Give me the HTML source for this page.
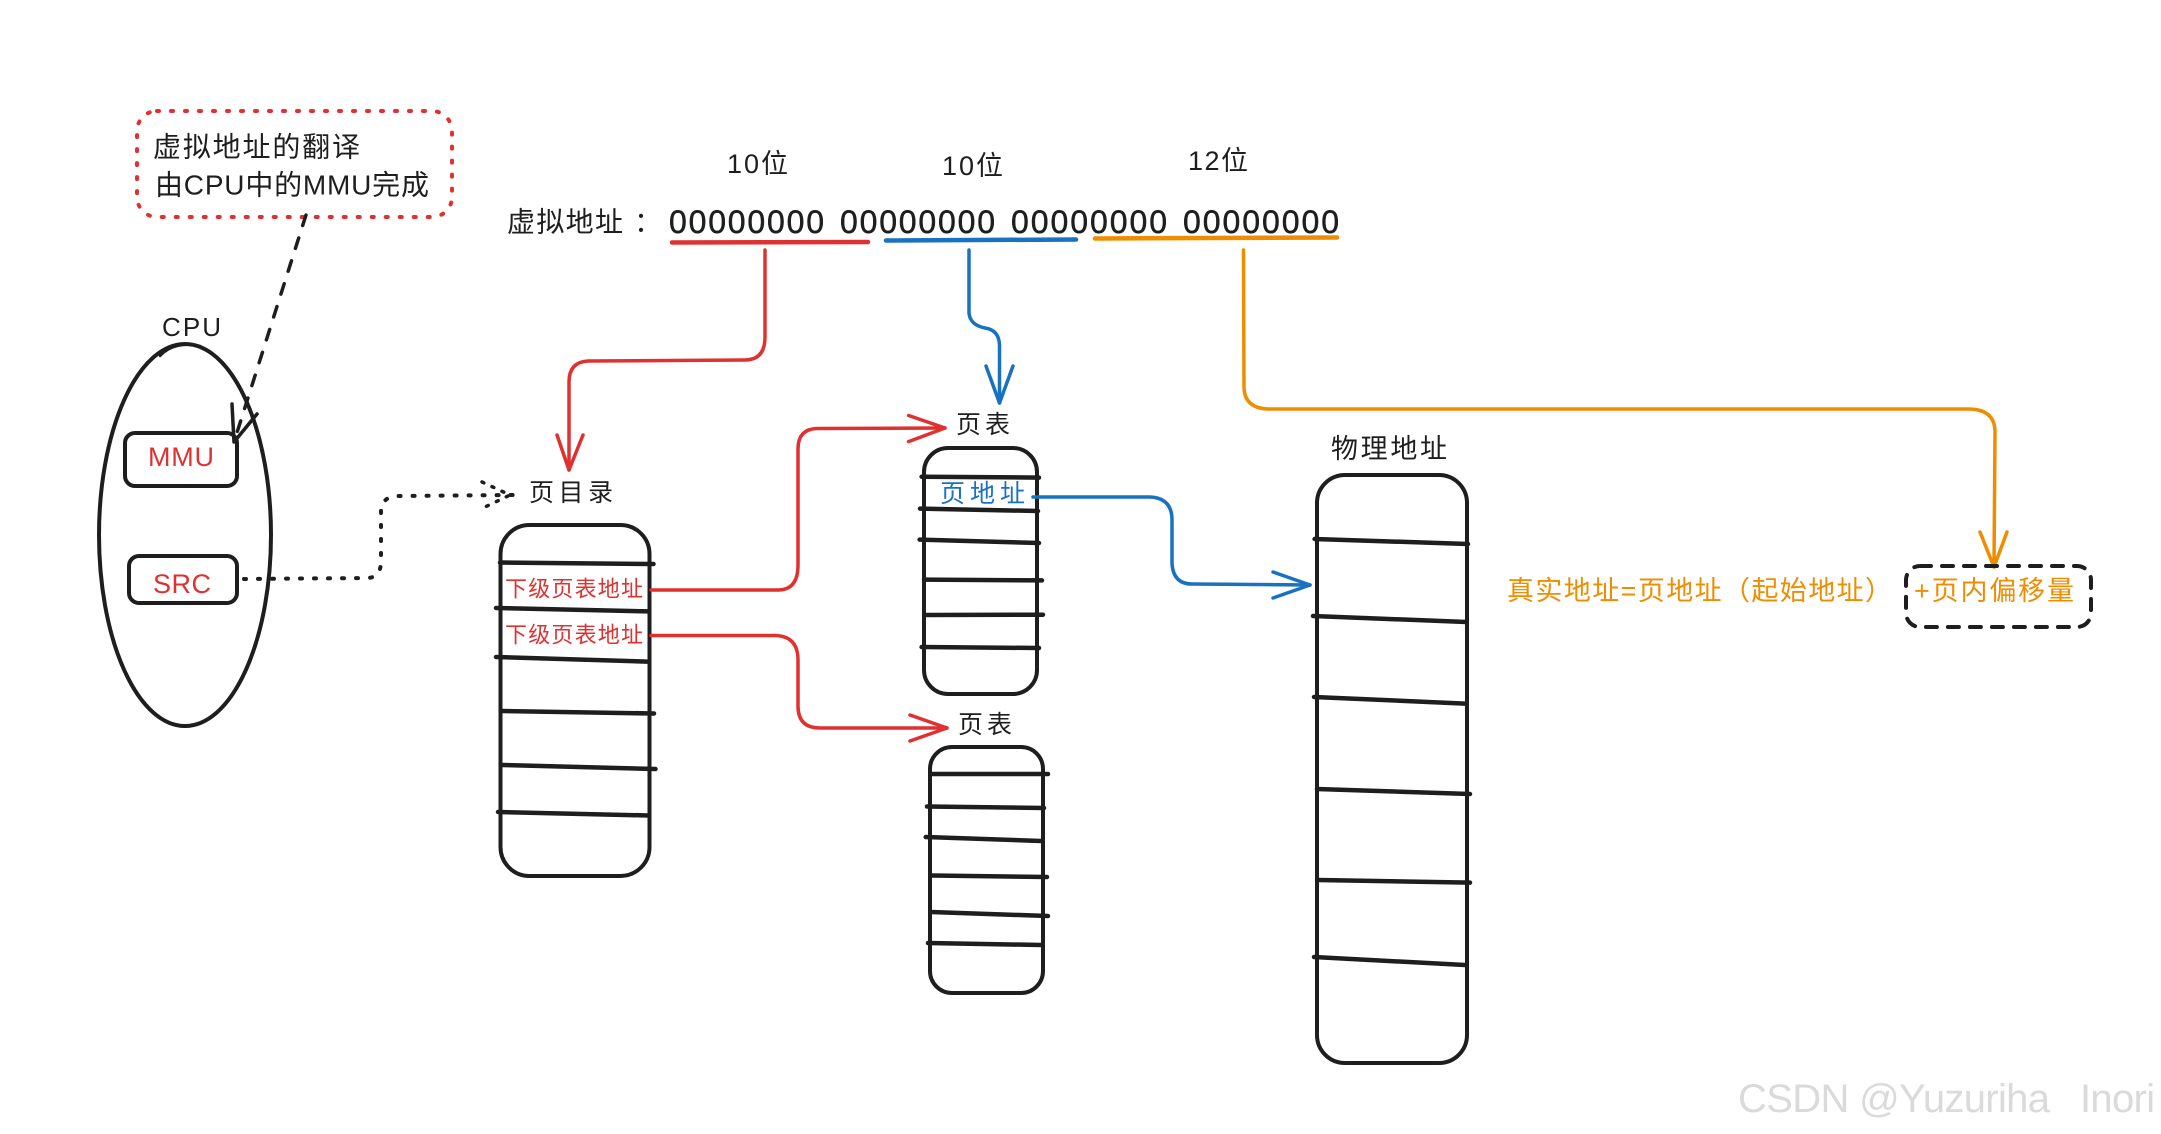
<!DOCTYPE html>
<html lang="zh">
<head>
<meta charset="utf-8">
<title>虚拟地址翻译</title>
<style>
html,body{margin:0;padding:0;background:#fff;width:2161px;height:1134px;overflow:hidden}
svg{display:block}
text{font-family:"Liberation Sans","WenQuanYi Zen Hei","Noto Sans CJK SC",sans-serif;dominant-baseline:central;fill:#1e1e1e}
.r{fill:#e03131}.b{fill:#1971c2}.o{fill:#f08c00}
.k{fill:none;stroke:#1e1e1e;stroke-linecap:round;stroke-linejoin:round}
.rs{fill:none;stroke:#e03131;stroke-width:3.5;stroke-linecap:round;stroke-linejoin:round}
.bs{fill:none;stroke:#1971c2;stroke-width:3.5;stroke-linecap:round;stroke-linejoin:round}
.os{fill:none;stroke:#f08c00;stroke-width:3.5;stroke-linecap:round;stroke-linejoin:round}
</style>
</head>
<body>
<svg width="2161" height="1134" viewBox="0 0 2161 1134" xmlns="http://www.w3.org/2000/svg">
<rect width="2161" height="1134" fill="#fff"/>

<!-- note -->
<rect x="137" y="111" width="315" height="106" rx="20" fill="none" stroke="#e03131" stroke-width="4" stroke-linecap="round" stroke-dasharray="2 12"/>
<text x="153" y="147" font-size="28" textLength="207" lengthAdjust="spacing">虚拟地址的翻译</text>
<text x="155" y="185" font-size="28" textLength="274" lengthAdjust="spacing">由CPU中的MMU完成</text>

<!-- CPU -->
<text x="162" y="327" font-size="26" textLength="59" lengthAdjust="spacing">CPU</text>
<ellipse cx="185" cy="535" rx="86" ry="191" class="k" stroke-width="4"/>
<path d="M160 356 C170 345 185 343 200 346" class="k" stroke-width="2.5"/>
<rect x="125" y="433" width="112" height="53" rx="10" class="k" stroke-width="4"/>
<text x="181" y="457" font-size="27" text-anchor="middle" class="r" textLength="66" lengthAdjust="spacing">MMU</text>
<rect x="129" y="556" width="108" height="47" rx="10" class="k" stroke-width="4"/>
<text x="182" y="584" font-size="27" text-anchor="middle" class="r" textLength="58" lengthAdjust="spacing">SRC</text>

<!-- dashed note → MMU -->
<path d="M306 215 L234 442" class="k" stroke-width="3.5" stroke-dasharray="11 13"/>
<path d="M232 404 L234 442 L257 414" class="k" stroke-width="3.5"/>

<!-- dotted SRC → 页目录 -->
<path d="M244 579 L368 578 Q381 577 381 561 L381 512 Q381 497 397 496 L516 495" class="k" stroke-width="4" stroke-linecap="round" stroke-dasharray="2 12"/>
<path d="M482 482 L510 495 L483 508" class="k" stroke-width="3.5" stroke-dasharray="2 9"/>

<!-- header -->
<text x="727" y="164" font-size="27" textLength="61" lengthAdjust="spacing">10位</text>
<text x="942" y="166" font-size="27" textLength="61" lengthAdjust="spacing">10位</text>
<text x="1188" y="161" font-size="27" textLength="60" lengthAdjust="spacing">12位</text>
<text x="507" y="222" font-size="28" textLength="116" lengthAdjust="spacing">虚拟地址</text>
<text x="634" y="222" font-size="28">：</text>
<g font-size="32" stroke="#1e1e1e" stroke-width="0.5">
<text x="669" y="222" textLength="155" lengthAdjust="spacing">00000000</text>
<text x="840" y="222" textLength="155" lengthAdjust="spacing">00000000</text>
<text x="1011" y="222" textLength="156" lengthAdjust="spacing">00000000</text>
<text x="1183" y="222" textLength="156" lengthAdjust="spacing">00000000</text>
</g>
<path d="M672 242.5 L868 242" fill="none" stroke="#e03131" stroke-width="4.5" stroke-linecap="round"/>
<path d="M886 240.5 L1076 239.5" fill="none" stroke="#1971c2" stroke-width="4.5" stroke-linecap="round"/>
<path d="M1095 238.5 L1337 237.5" fill="none" stroke="#f08c00" stroke-width="4.5" stroke-linecap="round"/>

<!-- red to 页目录 -->
<path d="M765 250 L765 337 Q765 360 745 360 L588 361 Q569 362 569 382 L569 470" class="rs"/>
<path d="M557 435 L569 470 L583 435" class="rs"/>

<!-- blue to 页表 -->
<path d="M969 250 L969 313 Q970 325 985 328 Q999 330 999.5 345 L999.5 403" class="bs"/>
<path d="M986 366 L999.5 403 L1013 366" class="bs"/>

<!-- orange -->
<path d="M1243.5 250 L1244 388 Q1245 409 1270 409 L1968 409 Q1995 409 1995 432 L1994 567" class="os"/>
<path d="M1980 532 L1994 567 L2007 532" class="os"/>

<!-- 页目录 table -->
<text x="529" y="493" font-size="25" textLength="84" lengthAdjust="spacing">页目录</text>
<rect x="500.5" y="525" width="149" height="351" rx="29" class="k" stroke-width="4"/>
<g class="k" stroke-width="4.5">
<path d="M500 562.5 L653.5 564"/>
<path d="M496 608 L648.6 611.4"/>
<path d="M496 657 L647 661.6"/>
<path d="M502 711 L654 713.5"/>
<path d="M502 765 L655.5 769"/>
<path d="M498 812 L648.6 815.5"/>
</g>
<text x="505" y="589" font-size="22" class="r" textLength="138" lengthAdjust="spacing">下级页表地址</text>
<text x="505" y="635" font-size="22" class="r" textLength="138" lengthAdjust="spacing">下级页表地址</text>

<!-- red to tables -->
<path d="M651 590 L778 590 Q798 590 798 565 L798 449 Q798 429 817 428.5 L945 428" class="rs"/>
<path d="M908.6 415.5 L945 428 L908.6 441.6" class="rs"/>
<path d="M651 635.5 L775 635.5 Q798 636 798 660 L798 706 Q798 728 820 728 L947 728" class="rs" stroke-width="4"/>
<path d="M910 715 L947 728 L910 741" class="rs"/>

<!-- 页表 1 -->
<text x="956" y="425" font-size="25" textLength="54" lengthAdjust="spacing">页表</text>
<rect x="924" y="448" width="113" height="246" rx="24" class="k" stroke-width="4"/>
<g class="k" stroke-width="4.5">
<path d="M921.6 476.7 L1039 477.6"/>
<path d="M920 508.6 L1038 511"/>
<path d="M919.6 539.6 L1039 543"/>
<path d="M924 579.6 L1042 580.4"/>
<path d="M925.7 615 L1043 614.7"/>
<path d="M921.6 647 L1039 648"/>
</g>
<text x="940" y="494" font-size="25" class="b" textLength="85" lengthAdjust="spacing">页地址</text>

<!-- blue to physical -->
<path d="M1033 497 L1150 497 Q1172 498 1172 520 L1172 563 Q1173 584 1192 584 L1310 585" class="bs"/>
<path d="M1273 572 L1310 585 L1273 598" class="bs"/>

<!-- 页表 2 -->
<text x="958" y="725" font-size="25" textLength="54" lengthAdjust="spacing">页表</text>
<rect x="930" y="747" width="113" height="246" rx="22" class="k" stroke-width="4"/>
<g class="k" stroke-width="4.5">
<path d="M931 774 L1048 774"/>
<path d="M927 806.5 L1044 808"/>
<path d="M925.7 837 L1041 841"/>
<path d="M932 875.5 L1047 877"/>
<path d="M931 912 L1048 916"/>
<path d="M928 943 L1041 945"/>
</g>

<!-- 物理地址 -->
<text x="1331" y="449" font-size="27" textLength="116" lengthAdjust="spacing">物理地址</text>
<rect x="1317" y="475" width="150" height="588" rx="28" class="k" stroke-width="4"/>
<g class="k" stroke-width="4.5">
<path d="M1314.6 539 L1468 544"/>
<path d="M1313 616 L1466.5 622"/>
<path d="M1314 697 L1465 703.6"/>
<path d="M1317 789 L1470 794"/>
<path d="M1318 880 L1470 882.6"/>
<path d="M1314 957 L1465 965"/>
</g>

<!-- formula -->
<text x="1507" y="591" font-size="27" class="o" textLength="385" lengthAdjust="spacing">真实地址=页地址（起始地址）</text>
<text x="1914" y="591" font-size="27" class="o" textLength="160" lengthAdjust="spacing">+页内偏移量</text>
<rect x="1906" y="566" width="185" height="61" rx="14" class="k" stroke-width="4" stroke-dasharray="11 11"/>

<!-- watermark -->
<text x="1738" y="1099" font-size="40" style="fill:#dadada" textLength="312" lengthAdjust="spacing">CSDN @Yuzuriha</text>
<text x="2080" y="1099" font-size="40" style="fill:#dadada" textLength="75" lengthAdjust="spacing">Inori</text>
</svg>
</body>
</html>
